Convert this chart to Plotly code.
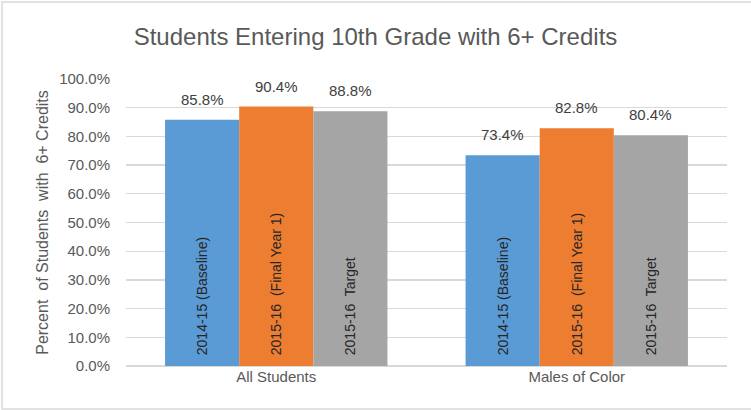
import plotly.graph_objects as go

categories = ["All Students", "Males of Color"]
series_names = ["2014-15 (Baseline)", "2015-16  (Final Year 1)", "2015-16  Target"]
baseline = [85.8, 73.4]
final_year1 = [90.4, 82.8]
target = [88.8, 80.4]
colors = ["#5B9BD5", "#ED7D31", "#A5A5A5"]
y_ticks = [0, 10, 20, 30, 40, 50, 60, 70, 80, 90, 100]
y_tick_labels = [f"{v:.1f}%" for v in y_ticks]

W, H = 751, 410
ML, MR, MT, MB = 126, 24, 79, 44
FONT = "Liberation Sans"
GRAY = "#595959"

fig = go.Figure()
all_values = [baseline, final_year1, target]
for name, vals, col in zip(series_names, all_values, colors):
    fig.add_trace(go.Bar(
        x=categories, y=vals, name=name,
        marker=dict(color=col, line=dict(width=0)),
        text=["\u00a0\u00a0" + name] * len(vals),
        textposition="inside", insidetextanchor="start", textangle=-90,
        textfont=dict(family=FONT, size=14, color="#262626"),
        constraintext="none",
        hoverinfo="skip",
    ))

plot_w = W - ML - MR
cat_w = plot_w / len(categories)
bargap = 0.26
bar_w = cat_w * (1 - bargap) / 3
for i, vals in enumerate(all_values):
    for cat, v in zip(categories, vals):
        fig.add_annotation(
            x=cat, y=v, text=f"{v:.1f}%", showarrow=False,
            xshift=(i - 1) * bar_w, yshift=10, yanchor="bottom",
            font=dict(family=FONT, size=15, color="#404040"),
        )

fig.add_shape(type="rect", xref="paper", yref="paper",
              x0=(2 - ML) / plot_w, x1=(W + 5 - ML) / plot_w,
              y0=-(H - 1 - (H - MB)) / (H - MT - MB),
              y1=1 + (MT - 2) / (H - MT - MB),
              line=dict(color="#D9D9D9", width=1.5), layer="below")

fig.update_layout(
    width=W, height=H,
    margin=dict(l=ML, r=MR, t=MT, b=MB, autoexpand=False),
    paper_bgcolor="white", plot_bgcolor="white",
    barmode="group", bargap=bargap, bargroupgap=0,
    showlegend=False,
    title=dict(text="Students Entering 10th Grade with 6+ Credits",
               x=0.5, xanchor="center", y=1 - 37 / H, yanchor="middle",
               font=dict(family=FONT, size=24, color=GRAY)),
    font=dict(family=FONT, color=GRAY),
    uniformtext=dict(minsize=14, mode="show"),
)
fig.update_xaxes(showgrid=False, showline=False, ticks="", automargin=False,
                 tickfont=dict(family=FONT, size=15, color=GRAY))
fig.update_yaxes(range=[0, 100], tickvals=y_ticks, ticktext=y_tick_labels,
                 automargin=False,
                 showgrid=True, gridcolor="#D9D9D9", gridwidth=1.3,
                 zeroline=True, zerolinecolor="#D9D9D9", zerolinewidth=1.3,
                 ticks="", ticklabelstandoff=15,
                 tickfont=dict(family=FONT, size=15, color=GRAY),
                 title=dict(text="Percent  of Students  with  6+ Credits",
                            font=dict(family=FONT, size=16, color=GRAY),
                            standoff=6))

fig.write_html("out.html",
               config={"displayModeBar": False, "staticPlot": True},
               post_script="document.body.style.margin='0px';document.body.style.overflow='hidden';")
